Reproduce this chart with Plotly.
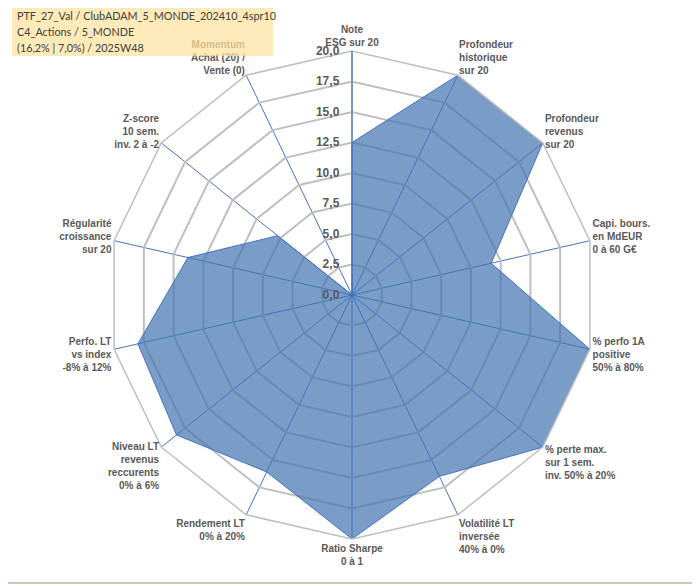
import plotly.graph_objects as go

# Critères du radar (sens horaire depuis le haut)
criteres = [
    "Note<br>ESG sur 20",
    "Profondeur<br>historique<br>sur 20",
    "Profondeur<br>revenus<br>sur 20",
    "Capi. bours.<br>en MdEUR<br>0 à 60 G€",
    "% perfo 1A<br>positive<br>50% à 80%",
    "% perte max.<br>sur 1 sem.<br>inv. 50% à 20%",
    "Volatilité LT<br>inversée<br>40% à 0%",
    "Ratio Sharpe<br>0 à 1",
    "Rendement LT<br>0% à 20%",
    "Niveau LT<br>revenus<br>reccurents<br>0% à 6%",
    "Perfo. LT<br>vs index<br>-8% à 12%",
    "Régularité<br>croissance<br>sur 20",
    "Z-score<br>10 sem.<br>inv. 2 à -2",
    "Momentum<br>Achat (20) /<br>Vente (0)",
]

# Notes sur 20
notes = [12.5, 20, 20, 11.7, 20, 20, 16.5, 20, 16.1, 18.4, 18.0, 13.8, 7.8, 0]

graduations = [0, 2.5, 5, 7.5, 10, 12.5, 15, 17.5, 20]

lignes_titre = [
    "PTF_27_Val / ClubADAM_5_MONDE_202410_4spr10",
    "C4_Actions / 5_MONDE",
    "(16,2% | 7,0%) / 2025W48",
]

# la page ajoute une marge de 8 px : on travaille en coordonnées fenêtre moins 8
OFF = 8
W, H = 700 - OFF, 586 - OFF
cx, cy, R = 352 - OFF, 295 - OFF, 244


def px_x(x):
    return (x - OFF) / W


def px_y(y):
    return 1 - (y - OFF) / H


fig = go.Figure()
fig.add_trace(go.Scatterpolar(
    r=notes + notes[:1],
    theta=criteres + criteres[:1],
    mode="lines",
    fill="toself",
    fillcolor="rgba(66,116,176,0.7)",
    line=dict(color="#4472C4", width=1),
    hoverinfo="r+theta",
))

fig.update_layout(
    width=W, height=H,
    margin=dict(l=0, r=0, t=0, b=0),
    paper_bgcolor="white",
    separators=", ",
    showlegend=False,
    polar=dict(
        domain=dict(x=[(cx - R) / W, (cx + R) / W],
                    y=[1 - (cy + R) / H, 1 - (cy - R) / H]),
        bgcolor="white",
        gridshape="linear",
        radialaxis=dict(
            range=[0, 20],
            tickvals=graduations,
            tickformat=".1f",
            angle=90,
            tickangle=90,
            side="counterclockwise",
            showline=True, linecolor="#4472C4", linewidth=1,
            gridcolor="#BFBFBF", gridwidth=1.5,
            # petits traits invisibles pour écarter les libellés de l'axe
            ticks="outside", ticklen=8, tickcolor="rgba(0,0,0,0)",
            tickfont=dict(family="Liberation Sans", size=12, color="#595959", weight="bold"),
        ),
        angularaxis=dict(
            rotation=90,
            direction="clockwise",
            showline=True, linecolor="#BFBFBF", linewidth=1.5,
            gridcolor="#4472C4", gridwidth=1,
            ticks="",
            tickfont=dict(family="Liberation Sans", size=10, color="#595959", weight="bold"),
        ),
    ),
)

# Cartouche du titre, semi-transparent au-dessus du libellé Momentum
fig.add_shape(type="rect", xref="paper", yref="paper", layer="above",
              x0=px_x(12), x1=px_x(273), y0=px_y(56), y1=px_y(7),
              fillcolor="rgba(255,226,160,0.72)", line=dict(width=0))
for i, ligne in enumerate(lignes_titre):
    fig.add_annotation(
        x=px_x(15), y=px_y(16 + 16 * i), xref="paper", yref="paper",
        xanchor="left", yanchor="middle", align="left",
        text=ligne, showarrow=False,
        font=dict(family="Lato", size=10.8, color="#404040"),
    )

# Bords droit et bas du cadre
fig.add_shape(type="line", xref="paper", yref="paper", x0=px_x(698), x1=px_x(698), y0=px_y(583), y1=1,
              line=dict(color="#BFBFBF", width=1))
fig.add_shape(type="line", xref="paper", yref="paper", x0=0, x1=px_x(698), y0=px_y(583), y1=px_y(583),
              line=dict(color="#A9C29A", width=1.5))

fig.write_html("out.html")
